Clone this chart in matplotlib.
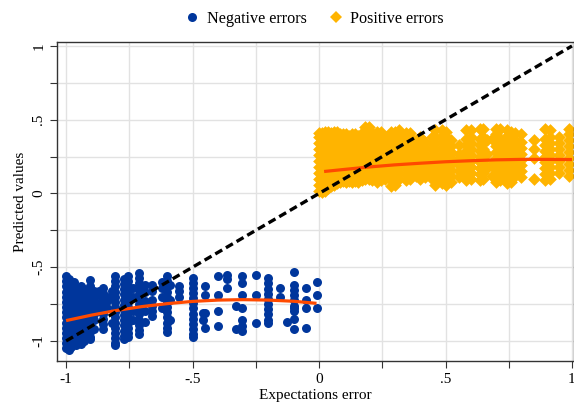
import numpy as np
import matplotlib
matplotlib.use("Agg")
import matplotlib.pyplot as plt
from matplotlib.lines import Line2D

# negative errors: one x per column, y values
neg_x = [-1.000, -0.990, -0.980, -0.970, -0.960, -0.950, -0.940, -0.930,
         -0.905, -0.890, -0.870, -0.855, -0.840, -0.820, -0.805, -0.770,
         -0.755, -0.735, -0.710, -0.690, -0.660, -0.620, -0.600, -0.590,
         -0.553, -0.500, -0.460, -0.450, -0.400, -0.365, -0.330, -0.305,
         -0.250, -0.200, -0.155, -0.125, -0.100, -0.050, -0.010]
neg_y = [
    [-0.56, -0.595, -0.63, -0.665, -0.70, -0.735, -0.77, -0.805, -0.84, -0.875, -0.91, -0.945, -0.98, -1.015, -1.05],
    [-0.58, -0.615, -0.65, -0.685, -0.72, -0.755, -0.79, -0.825, -0.86, -0.895, -0.93, -0.965, -1.00, -1.035, -1.06],
    [-0.62, -0.655, -0.69, -0.725, -0.76, -0.795, -0.83, -0.865, -0.90, -0.935, -0.97, -1.005, -1.04],
    [-0.60, -0.635, -0.67, -0.705, -0.74, -0.775, -0.81, -0.845, -0.88, -0.915, -0.95, -0.985, -1.02],
    [-0.64, -0.675, -0.71, -0.745, -0.78, -0.815, -0.85, -0.885, -0.92, -0.955, -0.99, -1.03],
    [-0.66, -0.695, -0.73, -0.765, -0.80, -0.835, -0.87, -0.905, -0.94, -0.975, -1.00],
    [-0.63, -0.665, -0.70, -0.735, -0.77, -0.805, -0.84, -0.875, -0.91, -0.945, -0.98, -1.02],
    [-0.65, -0.685, -0.72, -0.755, -0.79, -0.825, -0.86, -0.895, -0.93, -0.965, -1.00],
    [-0.59, -0.625, -0.66, -0.695, -0.73, -0.765, -0.80, -0.835, -0.87, -0.905, -0.94, -0.975, -0.99],
    [-0.66, -0.70, -0.74, -0.78, -0.82, -0.86, -0.92],
    [-0.66, -0.69, -0.74, -0.80],
    [-0.64, -0.675, -0.71, -0.745, -0.78, -0.815, -0.85, -0.885, -0.92],
    [-0.70, -0.73, -0.78],
    [-0.66, -0.70, -0.88],
    [-0.56, -0.595, -0.63, -0.665, -0.70, -0.735, -0.77, -0.805, -0.84, -0.875, -0.91, -0.945, -0.98, -1.015, -1.03],
    [-0.58, -0.615, -0.65, -0.685, -0.72, -0.755, -0.79, -0.825, -0.86, -0.895, -0.93, -0.965, -0.99],
    [-0.56, -0.595, -0.63, -0.665, -0.70, -0.735, -0.77, -0.805, -0.84, -0.875, -0.91, -0.945, -0.97],
    [-0.64, -0.70, -0.80, -0.86],
    [-0.54, -0.575, -0.61, -0.645, -0.68, -0.715, -0.75, -0.785, -0.82, -0.855, -0.89, -0.925, -0.95],
    [-0.62, -0.67, -0.73, -0.80, -0.87],
    [-0.62, -0.66, -0.72, -0.76, -0.80, -0.83],
    [-0.60, -0.64, -0.70, -0.78],
    [-0.56, -0.595, -0.63, -0.665, -0.70, -0.735, -0.77, -0.805, -0.84, -0.875, -0.91, -0.94],
    [-0.62, -0.72, -0.86],
    [-0.63, -0.66, -0.70],
    [-0.57, -0.605, -0.64, -0.675, -0.71, -0.745, -0.78, -0.815, -0.85, -0.885, -0.92, -0.955, -0.97],
    [-0.81, -0.86],
    [-0.63, -0.69, -0.81, -0.91],
    [-0.56, -0.69, -0.80, -0.90],
    [-0.55, -0.58, -0.64],
    [-0.76, -0.92],
    [-0.56, -0.61, -0.69, -0.78, -0.86, -0.90, -0.93],
    [-0.55, -0.69, -0.88],
    [-0.575, -0.61, -0.645, -0.68, -0.715, -0.75, -0.785, -0.82, -0.855, -0.88],
    [-0.64, -0.70],
    [-0.87],
    [-0.53, -0.62, -0.655, -0.69, -0.725, -0.76, -0.78, -0.80, -0.85, -0.92],
    [-0.64, -0.72, -0.78, -0.91],
    [-0.60, -0.69, -0.78],
]

# positive errors
pos_x = [0.000, 0.012, 0.024, 0.036, 0.048, 0.060, 0.072, 0.084, 0.096,
         0.108, 0.120, 0.132, 0.144, 0.156, 0.168, 0.182, 0.196, 0.210,
         0.230, 0.245, 0.260, 0.285, 0.300, 0.315, 0.345, 0.360, 0.385,
         0.400, 0.420, 0.445, 0.460, 0.485, 0.500, 0.520, 0.555, 0.580,
         0.600, 0.635, 0.650, 0.665, 0.682, 0.700, 0.715, 0.745, 0.760,
         0.775, 0.800, 0.850, 0.895, 0.915, 0.950, 0.990]
pos_y = [
    [0.02, 0.06, 0.10, 0.14, 0.18, 0.22, 0.26, 0.30, 0.34, 0.38, 0.41],
    [0.01, 0.05, 0.09, 0.13, 0.17, 0.21, 0.25, 0.29, 0.33, 0.37, 0.41],
    [0.02, 0.06, 0.10, 0.14, 0.18, 0.22, 0.26, 0.30, 0.34, 0.38, 0.42],
    [0.04, 0.08, 0.12, 0.16, 0.20, 0.24, 0.28, 0.32, 0.36, 0.40, 0.42],
    [0.05, 0.09, 0.13, 0.17, 0.21, 0.25, 0.29, 0.33, 0.37, 0.41],
    [0.06, 0.10, 0.14, 0.18, 0.22, 0.26, 0.30, 0.34, 0.38, 0.42],
    [0.07, 0.11, 0.15, 0.19, 0.23, 0.27, 0.31, 0.35, 0.39, 0.42],
    [0.08, 0.12, 0.16, 0.20, 0.24, 0.28, 0.32, 0.36, 0.40],
    [0.085, 0.125, 0.165, 0.205, 0.245, 0.285, 0.325, 0.365, 0.40],
    [0.08, 0.12, 0.16, 0.20, 0.24, 0.28, 0.32, 0.36, 0.40],
    [0.085, 0.125, 0.165, 0.205, 0.245, 0.285, 0.325, 0.365, 0.39],
    [0.08, 0.12, 0.16, 0.20, 0.24, 0.28, 0.32, 0.36, 0.40],
    [0.085, 0.125, 0.165, 0.205, 0.245, 0.285, 0.325, 0.365, 0.40],
    [0.08, 0.12, 0.16, 0.20, 0.24, 0.28, 0.32, 0.36, 0.39],
    [0.09, 0.13, 0.17, 0.21, 0.25, 0.29, 0.33, 0.37, 0.41],
    [0.10, 0.14, 0.18, 0.22, 0.26, 0.30, 0.34, 0.38, 0.42, 0.45],
    [0.10, 0.14, 0.18, 0.22, 0.26, 0.30, 0.34, 0.38, 0.42, 0.45],
    [0.09, 0.13, 0.17, 0.21, 0.25, 0.29, 0.33, 0.37, 0.41],
    [0.08, 0.12, 0.16, 0.20, 0.24, 0.28, 0.32, 0.36, 0.40, 0.42],
    [0.09, 0.13, 0.17, 0.21, 0.25, 0.29, 0.33, 0.37, 0.42],
    [0.10, 0.14, 0.18, 0.22, 0.26, 0.30, 0.34, 0.38],
    [0.05, 0.09, 0.13, 0.17, 0.21, 0.25, 0.29, 0.33, 0.37, 0.42],
    [0.06, 0.10, 0.14, 0.18, 0.22, 0.26, 0.30, 0.34, 0.38, 0.42],
    [0.10, 0.14, 0.18, 0.22, 0.26, 0.30, 0.34, 0.38, 0.43],
    [0.09, 0.13, 0.17, 0.21, 0.25, 0.29, 0.33, 0.37, 0.41],
    [0.10, 0.14, 0.18, 0.22, 0.26, 0.30, 0.34, 0.38, 0.41],
    [0.12, 0.16, 0.20, 0.24, 0.28, 0.32, 0.36],
    [0.10, 0.14, 0.18, 0.22, 0.26, 0.30, 0.34, 0.38],
    [0.11, 0.15, 0.19, 0.23, 0.27, 0.31, 0.35],
    [0.10, 0.14, 0.18, 0.22, 0.26, 0.30, 0.34, 0.38],
    [0.06, 0.10, 0.14, 0.18, 0.22, 0.26, 0.30, 0.34, 0.38, 0.43],
    [0.07, 0.11, 0.15, 0.19, 0.23, 0.27, 0.31, 0.35, 0.39, 0.43],
    [0.06, 0.10, 0.14, 0.18, 0.22, 0.26, 0.30, 0.34, 0.38, 0.42],
    [0.08, 0.12, 0.16, 0.20, 0.24, 0.28, 0.32, 0.36],
    [0.11, 0.15, 0.19, 0.23, 0.27, 0.33],
    [0.09, 0.13, 0.17, 0.21, 0.25, 0.29, 0.33, 0.37, 0.43],
    [0.10, 0.14, 0.18, 0.22, 0.26, 0.30, 0.34, 0.38, 0.43],
    [0.09, 0.13, 0.17, 0.21, 0.25, 0.29, 0.33, 0.37, 0.44],
    [0.10, 0.14, 0.18, 0.22, 0.26, 0.30, 0.34, 0.38, 0.44],
    [0.17, 0.27, 0.36],
    [0.12, 0.20, 0.37],
    [0.08, 0.12, 0.16, 0.20, 0.24, 0.28, 0.32, 0.36, 0.40, 0.44],
    [0.09, 0.13, 0.17, 0.21, 0.25, 0.29, 0.33, 0.37, 0.44],
    [0.07, 0.11, 0.15, 0.19, 0.23, 0.27, 0.31, 0.35, 0.39, 0.43],
    [0.08, 0.12, 0.16, 0.20, 0.24, 0.28, 0.32, 0.36, 0.42],
    [0.12, 0.16, 0.20, 0.24, 0.28, 0.32, 0.36, 0.41],
    [0.11, 0.15, 0.19, 0.23, 0.27, 0.31, 0.35, 0.40],
    [0.10, 0.24, 0.30, 0.36],
    [0.09, 0.13, 0.17, 0.21, 0.25, 0.29, 0.33, 0.37, 0.44],
    [0.10, 0.14, 0.18, 0.22, 0.26, 0.30, 0.34, 0.38, 0.43],
    [0.14, 0.18, 0.22, 0.26, 0.30, 0.34, 0.38],
    [0.12, 0.16, 0.20, 0.24, 0.28, 0.32, 0.36, 0.40, 0.44],
]

# fitted curves
neg_fit_x = [-1.0, -0.9, -0.8, -0.7, -0.6, -0.5, -0.4, -0.3, -0.2, -0.1, -0.01]
neg_fit_y = [-0.862, -0.825, -0.793, -0.767, -0.747, -0.732, -0.723, -0.720, -0.723, -0.731, -0.745]
pos_fit_x = [0.02, 0.1, 0.2, 0.3, 0.4, 0.5, 0.6, 0.7, 0.8, 0.9, 1.0]
pos_fit_y = [0.149, 0.163, 0.180, 0.194, 0.205, 0.215, 0.222, 0.228, 0.231, 0.231, 0.230]

ticks = [-1, -0.5, 0, 0.5, 1]
tick_labels = ["-1", "-.5", "0", ".5", "1"]
minor = [-0.75, -0.25, 0.25, 0.75]

blue = "#00369C"
gold = "#FFB400"
fitc = "#FF4A00"

plt.rcParams["font.family"] = ["Liberation Serif", "DejaVu Serif"]

fig = plt.figure(figsize=(5.74, 4.08), dpi=100)
ax = fig.add_axes([57 / 574, 1 - 361 / 408, 517 / 574, 319 / 408])

nx = [x for x, ys in zip(neg_x, neg_y) for _ in ys]
ny = [y for ys in neg_y for y in ys]
px = [x for x, ys in zip(pos_x, pos_y) for _ in ys]
py = [y for ys in pos_y for y in ys]

ax.scatter(nx, ny, s=42, marker="o", color=blue, linewidths=0, zorder=2)
ax.scatter(px, py, s=42, marker="D", color=gold, linewidths=0, zorder=2)
ax.plot(neg_fit_x, neg_fit_y, color=fitc, lw=2.3, zorder=3, solid_capstyle="butt")
ax.plot(pos_fit_x, pos_fit_y, color=fitc, lw=2.3, zorder=3, solid_capstyle="butt")
ax.plot([-1, 1], [-1, 1], color="black", lw=2.4, dashes=(2.4, 1.3), zorder=4)

ax.set_xlim(-1.036, 1.008)
ax.set_ylim(-1.136, 1.027)
ax.set_xticks(ticks)
ax.set_xticklabels(tick_labels, fontsize=11)
ax.set_yticks(ticks)
ax.set_yticklabels(tick_labels, fontsize=11, rotation=90, va="center")
ax.set_xticks(minor, minor=True)
ax.set_yticks(minor, minor=True)
ax.tick_params(which="both", direction="out", length=5, width=0.8, color="#333333")
ax.grid(True, which="both", color="#e2e2e2", lw=1.0, zorder=0)
ax.set_axisbelow(True)
for sp in ax.spines.values():
    sp.set_color("#333333")
    sp.set_linewidth(1.0)

ax.set_xlabel("Expectations error", fontsize=11, labelpad=2)
ax.set_ylabel("Predicted values", fontsize=11, labelpad=4)

handles = [
    Line2D([], [], marker="o", ls="", color=blue, markersize=6.5, markeredgewidth=0),
    Line2D([], [], marker="D", ls="", color=gold, markersize=6, markeredgewidth=0),
]
fig.legend(handles, ["Negative errors", "Positive errors"], loc="center",
           bbox_to_anchor=(314 / 574, 1 - 19 / 408), ncol=2, frameon=False,
           fontsize=11.6, handletextpad=0.4, columnspacing=1.3, handlelength=1.0)

fig.savefig("out.png", dpi=100)
